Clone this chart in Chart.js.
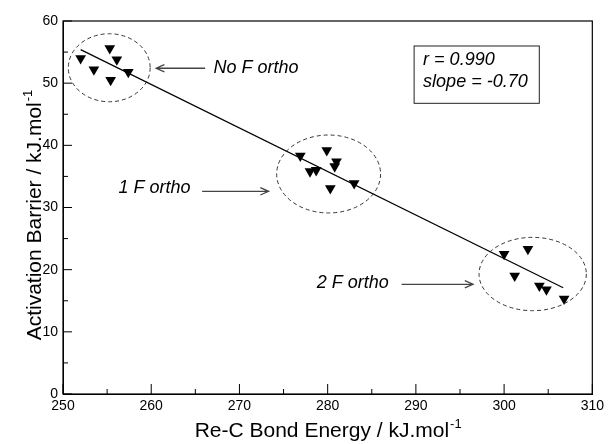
<!DOCTYPE html>
<html><head><meta charset="utf-8">
<script src="https://cdn.jsdelivr.net/npm/chart.js@4"></script>
<style>html,body{margin:0;padding:0;background:#fff}</style>
</head><body>
<canvas id="c" width="608" height="444"></canvas>
<script>
// ---- data ----
const noFx  = [252.0, 253.5, 255.3, 256.1, 255.4, 257.4];
const noFy  = [54.0, 52.2, 55.6, 53.8, 50.5, 51.8];
const oneFx = [276.9, 279.9, 281.0, 280.8, 278.0, 278.7, 280.3, 283.0];
const oneFy = [38.3, 39.2, 37.4, 36.6, 35.8, 36.0, 33.1, 33.9];
const twoFx = [300.0, 302.7, 301.2, 304.0, 304.8, 306.8];
const twoFy = [22.5, 23.3, 19.0, 17.4, 16.8, 15.3];
const fitX  = [252.0, 306.7];
const fitY  = [55.4, 17.1];
const xTicks = [250, 260, 270, 280, 290, 300, 310];
const yTicks = [0, 10, 20, 30, 40, 50, 60];
const xTitle = "Re-C Bond Energy / kJ.mol";
const yTitle = "Activation Barrier / kJ.mol";
const unitSup = "-1";
const groupLabels = ["No F ortho", "1 F ortho", "2 F ortho"];
const statLines = ["r = 0.990", "slope = -0.70"];

const pts = (xs, ys) => xs.map((x, i) => ({x, y: ys[i]}));
const FONT = '"Liberation Sans", Arial, sans-serif';

// annotation geometry in data units
const ellipses = [
  {cx: 255.24, cy: 52.48, rx: 4.64, ry: 5.47},
  {cx: 280.11, cy: 35.39, rx: 5.89, ry: 6.27},
  {cx: 303.24, cy: 19.30, rx: 6.08, ry: 5.90}
];
const arrows = [
  {x1: 266.11, y1: 52.4, x2: 260.56, y2: 52.4},
  {x1: 265.77, y1: 32.6, x2: 273.30, y2: 32.6},
  {x1: 288.38, y1: 17.65, x2: 296.48, y2: 17.65}
];
const labelPos = [
  {x: 267.05, y: 52.4, align: 'left'},
  {x: 264.45, y: 33.1, align: 'right'},
  {x: 278.75, y: 17.8, align: 'left'}
];
const statBox = {x1: 289.8, y1: 55.98, x2: 303.99, y2: 46.76, tx: 290.82, ty: [53.73, 50.24]};

const deco = {
  id: 'deco',
  afterDraw(chart) {
    const ctx = chart.ctx, a = chart.chartArea;
    const xs = chart.scales.x, ys = chart.scales.y;
    const X = v => xs.getPixelForValue(v), Y = v => ys.getPixelForValue(v);
    ctx.save();
    // frame
    ctx.strokeStyle = '#000'; ctx.lineWidth = 1.2;
    ctx.strokeRect(a.left, a.top, a.right - a.left, a.bottom - a.top);
    // inward ticks
    ctx.lineWidth = 1;
    xs.ticks.forEach(t => {
      const p = X(t.value), len = (t.value % 10 === 0) ? 10 : 5;
      ctx.beginPath(); ctx.moveTo(p, a.bottom); ctx.lineTo(p, a.bottom - len); ctx.stroke();
    });
    ys.ticks.forEach(t => {
      const p = Y(t.value), len = (t.value % 10 === 0) ? 9 : 5;
      ctx.beginPath(); ctx.moveTo(a.left, p); ctx.lineTo(a.left + len, p); ctx.stroke();
    });
    // ellipses
    ctx.setLineDash([4, 3]); ctx.strokeStyle = '#333'; ctx.lineWidth = 1;
    ellipses.forEach(e => {
      const cx = X(e.cx), cy = Y(e.cy);
      const rx = Math.abs(X(e.cx + e.rx) - cx), ry = Math.abs(Y(e.cy + e.ry) - cy);
      ctx.beginPath(); ctx.ellipse(cx, cy, rx, ry, 0, 0, Math.PI * 2); ctx.stroke();
    });
    ctx.setLineDash([]);
    // arrows
    ctx.strokeStyle = '#444'; ctx.lineWidth = 1.3;
    arrows.forEach(r => {
      const x1 = X(r.x1), y1 = Y(r.y1), x2 = X(r.x2), y2 = Y(r.y2);
      const ang = Math.atan2(y2 - y1, x2 - x1), hl = 9, hw = 0.42;
      ctx.beginPath(); ctx.moveTo(x1, y1); ctx.lineTo(x2, y2);
      ctx.moveTo(x2 - hl * Math.cos(ang - hw), y2 - hl * Math.sin(ang - hw));
      ctx.lineTo(x2, y2);
      ctx.lineTo(x2 - hl * Math.cos(ang + hw), y2 - hl * Math.sin(ang + hw));
      ctx.stroke();
    });
    // group labels
    ctx.fillStyle = '#000'; ctx.font = 'italic 18px ' + FONT; ctx.textBaseline = 'middle';
    groupLabels.forEach((s, i) => {
      ctx.textAlign = labelPos[i].align;
      ctx.fillText(s, X(labelPos[i].x), Y(labelPos[i].y));
    });
    // stats box
    ctx.strokeStyle = '#222'; ctx.lineWidth = 1;
    const bx = X(statBox.x1), by = Y(statBox.y1);
    ctx.strokeRect(bx, by, X(statBox.x2) - bx, Y(statBox.y2) - by);
    ctx.textAlign = 'left';
    statLines.forEach((s, i) => ctx.fillText(s, X(statBox.tx), Y(statBox.ty[i])));
    // axis titles
    ctx.textBaseline = 'alphabetic';
    ctx.font = '21px ' + FONT;
    let w = ctx.measureText(xTitle).width;
    ctx.font = '13px ' + FONT;
    let ws = ctx.measureText(unitSup).width;
    let cx = (a.left + a.right) / 2, left = cx - (w + ws) / 2;
    ctx.font = '21px ' + FONT; ctx.fillText(xTitle, left, 437);
    ctx.font = '13px ' + FONT; ctx.fillText(unitSup, left + w + 1, 428);
    ctx.font = '21px ' + FONT;
    w = ctx.measureText(yTitle).width;
    const cy = (a.top + a.bottom) / 2 + 8;
    ctx.translate(41, cy); ctx.rotate(-Math.PI / 2);
    left = -(w + ws) / 2;
    ctx.fillText(yTitle, left, 0);
    ctx.font = '13px ' + FONT; ctx.fillText(unitSup, left + w + 1, -9);
    ctx.restore();
  }
};

const tri = {backgroundColor: '#000', borderColor: '#000', borderWidth: 0, pointStyle: 'triangle', pointRotation: 180, pointRadius: 6.2};

new Chart(document.getElementById('c'), {
  type: 'scatter',
  data: {
    datasets: [
      {label: groupLabels[0], data: pts(noFx, noFy), ...tri},
      {label: groupLabels[1], data: pts(oneFx, oneFy), ...tri},
      {label: groupLabels[2], data: pts(twoFx, twoFy), ...tri},
      {label: 'fit', type: 'line', data: pts(fitX, fitY), borderColor: '#000', borderWidth: 1.2, pointRadius: 0, fill: false, showLine: true}
    ]
  },
  options: {
    responsive: false, animation: false,
    layout: {padding: {top: 21, right: 15, left: 0, bottom: 0}},
    plugins: {legend: {display: false}, tooltip: {enabled: false}},
    scales: {
      x: {
        type: 'linear', min: 250, max: 310,
        afterFit: s => { s.height = 50; },
        afterBuildTicks: s => { s.ticks = []; for (let v = 250; v <= 310; v += 5) s.ticks.push({value: v}); },
        grid: {display: true, drawOnChartArea: false, drawTicks: false},
        border: {display: true, color: '#000', width: 1},
        ticks: {padding: 4, autoSkip: false, maxRotation: 0, color: '#000', font: {family: FONT, size: 14},
          callback: v => xTicks.includes(v) ? String(v) : ''}
      },
      y: {
        type: 'linear', min: 0, max: 60,
        afterFit: s => { s.width = 63; },
        afterBuildTicks: s => { s.ticks = []; for (let v = 0; v <= 60; v += 5) s.ticks.push({value: v}); },
        grid: {display: true, drawOnChartArea: false, drawTicks: false},
        border: {display: true, color: '#000', width: 1},
        ticks: {padding: 5, autoSkip: false, color: '#000', font: {family: FONT, size: 14},
          callback: v => yTicks.includes(v) ? String(v) : ''}
      }
    }
  },
  plugins: [deco]
});
</script>
</body></html>
